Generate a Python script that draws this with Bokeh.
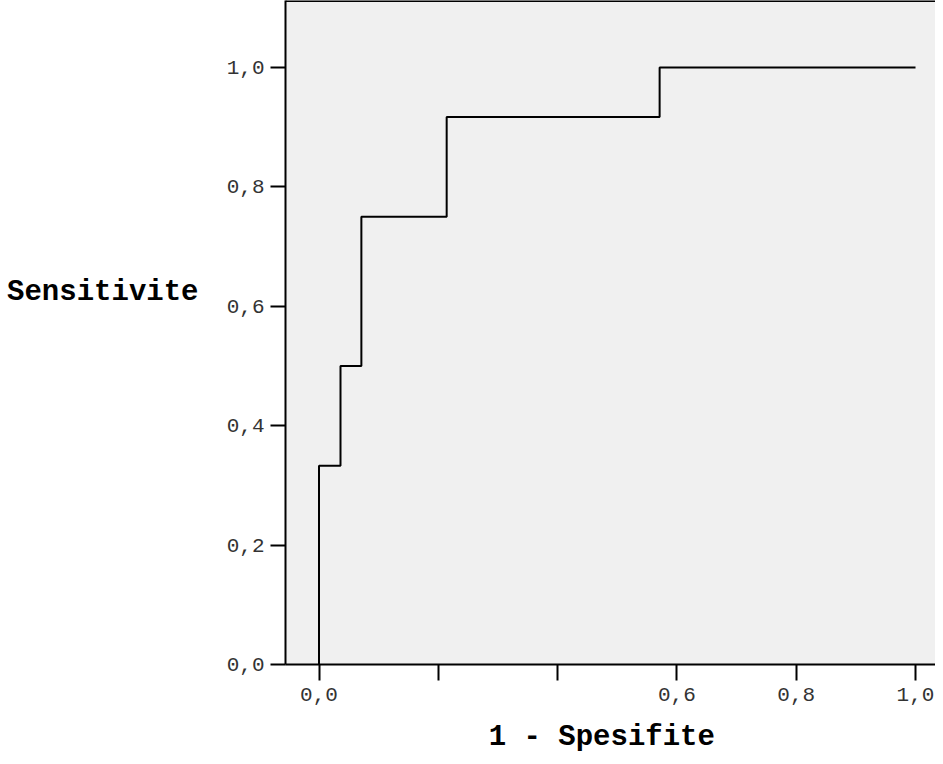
from bokeh.plotting import figure
from bokeh.models import FixedTicker, Span, Range1d, LinearAxis
from bokeh.embed import file_html
from bokeh.resources import INLINE

# ROC data (1 - specificity, sensitivity)
fpr = [0.0, 0.0, 0.036, 0.071, 0.214, 0.571, 1.0]
tpr = [0.0, 0.333, 0.5, 0.75, 0.917, 1.0, 1.0]

x_ticks = [0.0, 0.2, 0.4, 0.6, 0.8, 1.0]
x_tick_labels = ["0,0", "", "", "0,6", "0,8", "1,0"]
y_ticks = [0.0, 0.2, 0.4, 0.6, 0.8, 1.0]
y_tick_labels = ["0,0", "0,2", "0,4", "0,6", "0,8", "1,0"]

x_title = "1 - Spesifite"
y_title = "Sensitivite"

W, H = 935, 756
Y_END = 1.1122
p = figure(width=W, height=H, output_backend="svg", toolbar_location=None,
           x_range=Range1d(-0.0562, 1.0335), y_range=Range1d(0, Y_END),
           min_border_left=285, min_border_right=0, min_border_top=0,
           min_border_bottom=92)
p.background_fill_color = "#f0f0f0"
p.border_fill_color = "white"
p.grid.visible = False
p.outline_line_color = None

p.step(fpr, tpr, mode="after", line_color="black", line_width=2)

top = Span(location=Y_END, dimension="width", line_color="black", line_width=3)
p.add_layout(top)

font = "Liberation Mono"
for ax, ticks, labels in ((p.xaxis[0], x_ticks, x_tick_labels), (p.yaxis[0], y_ticks, y_tick_labels)):
    ax.ticker = FixedTicker(ticks=ticks)
    ax.major_label_overrides = {t: l for t, l in zip(ticks, labels)}
    ax.minor_tick_line_color = None
    ax.major_tick_in = 0
    ax.axis_line_color = "black"
    ax.axis_line_width = 2
    ax.major_tick_line_color = "black"
    ax.major_tick_line_width = 2
    ax.major_label_text_font = font
    ax.major_label_text_font_size = "21px"
    ax.major_label_text_color = "#333333"
p.xaxis.major_tick_out = 16
p.xaxis.major_label_standoff = 7
p.yaxis.major_tick_out = 15
p.yaxis.major_label_standoff = 6

# x title (a trailing no-break space nudges its centre slightly left)
xa = p.xaxis[0]
xa.axis_label = x_title + "\u00a0"
xa.axis_label_text_font = font
xa.axis_label_text_font_style = "bold"
xa.axis_label_text_font_size = "29px"
xa.axis_label_text_color = "black"
xa.axis_label_standoff = 17

# y title: horizontal label on an extra (invisible) left axis
yt = LinearAxis(ticker=FixedTicker(ticks=[]),
                axis_line_color=None, major_tick_line_color=None,
                minor_tick_line_color=None, major_tick_out=0, major_tick_in=0,
                major_label_standoff=0, major_label_text_font_size="0px",
                axis_label=y_title + "\n\n", axis_label_text_font=font,
                axis_label_text_font_style="bold", axis_label_text_font_size="29px",
                axis_label_text_line_height=1.2,
                axis_label_text_color="black", axis_label_standoff=25,
                axis_label_orientation="horizontal")
p.add_layout(yt, "left")

open("out.html", "w").write(file_html(p, INLINE))
